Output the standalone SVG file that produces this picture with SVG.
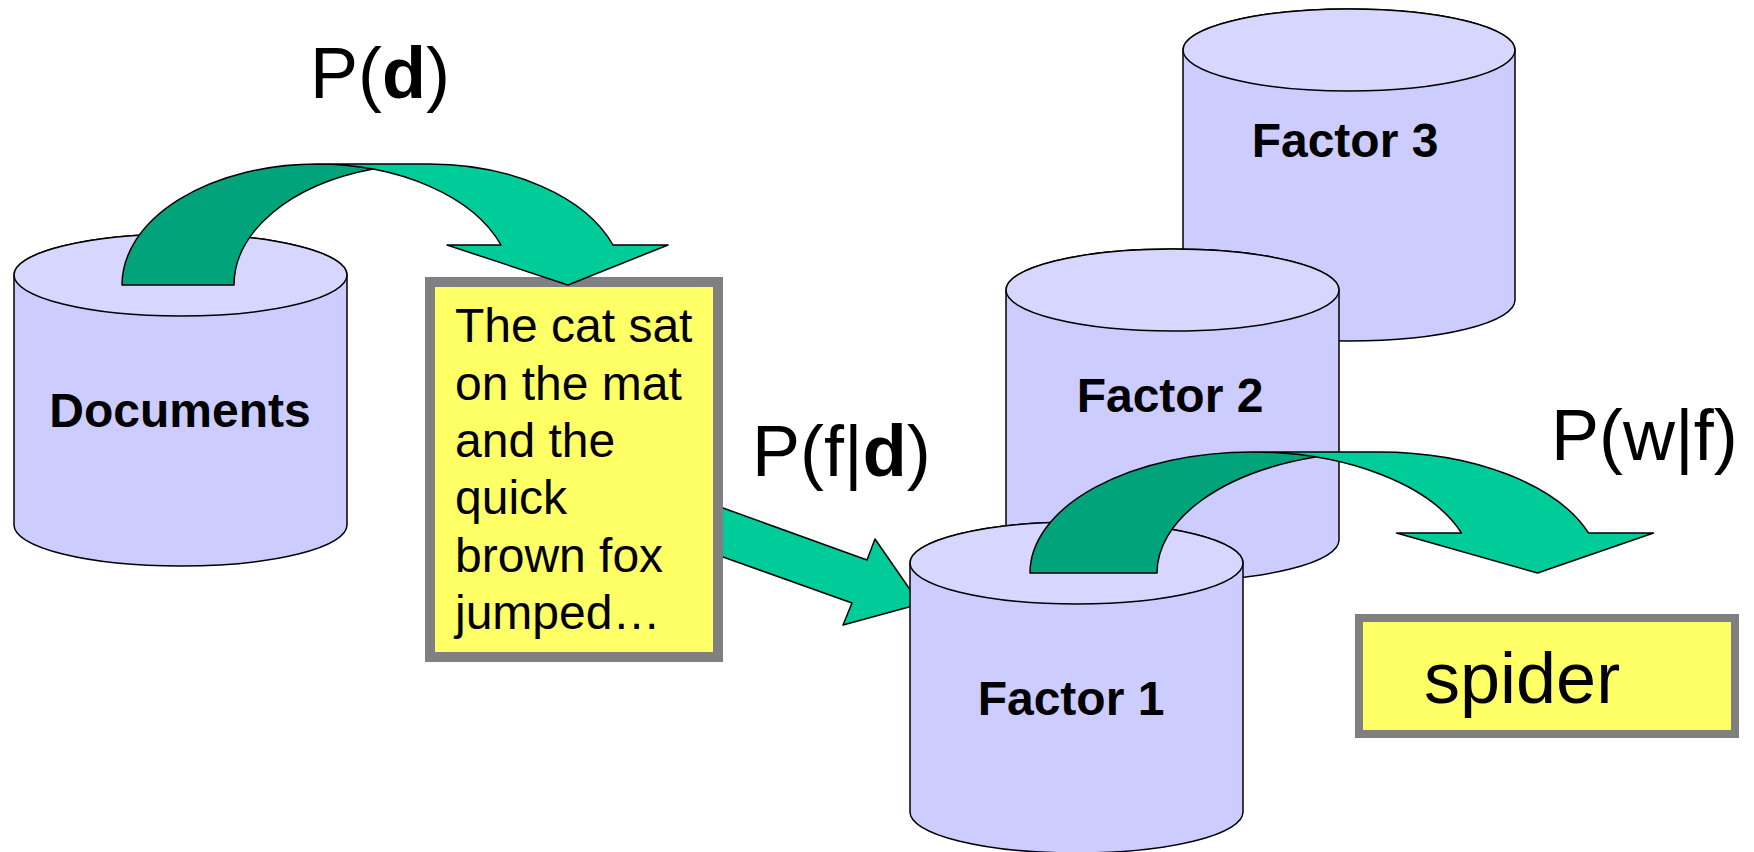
<svg xmlns="http://www.w3.org/2000/svg" width="1754" height="852" viewBox="0 0 1754 852">
<style>
.body{fill:#CCCCFF;stroke:#000;stroke-width:1.5}
.top{fill:#D6D6FF;stroke:#000;stroke-width:1.5}
.lbl{font-family:"Liberation Sans",Arial,sans-serif;font-weight:bold;font-size:48px;fill:#000}
.txt{font-family:"Liberation Sans",Arial,sans-serif;font-size:48px;fill:#000}
.prob{font-family:"Liberation Sans",Arial,sans-serif;font-size:72px;fill:#000}
.light{fill:#00CC99;stroke:none}
.dark{fill:#00A37A;stroke:none}
.outline{fill:none;stroke:#000;stroke-width:1.5;stroke-linejoin:round}
.box{fill:#FFFF66;stroke:#808080}
</style>
<rect width="1754" height="852" fill="#fff"/>

<g id="documents">
<path class="body" d="M14,275 L14,525 A166.5,41 0 0 0 347,525 L347,275 A166.5,41 0 0 0 14,275 Z"/>
<ellipse class="top" cx="180.5" cy="275" rx="166.5" ry="41"/>
<text class="lbl" x="180" y="427" text-anchor="middle">Documents</text>
</g>

<g id="textbox">
<rect class="box" x="430" y="282" width="288" height="375" stroke-width="10"/>
<text class="txt" x="455" y="342">The cat sat</text>
<text class="txt" x="455" y="400">on the mat</text>
<text class="txt" x="455" y="457">and the</text>
<text class="txt" x="455" y="514">quick</text>
<text class="txt" x="455" y="572">brown fox</text>
<text class="txt" x="455" y="629">jumped…</text>
</g>

<g id="factor3">
<path class="body" d="M1183,50 L1183,300 A166,41 0 0 0 1515,300 L1515,50 A166,41 0 0 0 1183,50 Z"/>
<ellipse class="top" cx="1349" cy="50" rx="166" ry="41"/>
<text class="lbl" x="1345" y="157" text-anchor="middle">Factor 3</text>
</g>

<g id="factor2">
<path class="body" d="M1006,290 L1006,540 A166.5,41 0 0 0 1339,540 L1339,290 A166.5,41 0 0 0 1006,290 Z"/>
<ellipse class="top" cx="1172.5" cy="290" rx="166.5" ry="41"/>
<text class="lbl" x="1170" y="412" text-anchor="middle">Factor 2</text>
</g>

<g id="connectors">
<g id="arrow-docs-text">
<path class="light" d="M568,285 L447,245 L501,245 A195,121 0 0 0 317,164 L429,164 A195,121 0 0 1 613,245 L668,245 Z"/>
<path class="dark" d="M373,169.1 A195,121 0 0 0 234,285 L122,285 A195,121 0 0 1 373,169.1 Z"/>
<path class="outline" d="M373,169.1 A195,121 0 0 0 234,285 L122,285 A195,121 0 0 1 317,164 L429,164 A195,121 0 0 1 613,245 L668,245 L568,285 L447,245 L501,245 A195,121 0 0 0 317,164"/>
</g>
<g id="arrow-text-factor1">
<path class="light" d="M723,508 L867,560 L875,539 L920,604 L843,625 L852,603 L723,557 Z"/>
<path class="outline" d="M723,508 L867,560 L875,539 L920,604 L843,625 L852,603 L723,557"/>
</g>
</g>

<g id="factor1">
<path class="body" d="M910,563 L910,812 A166.5,41 0 0 0 1243,812 L1243,563 A166.5,41 0 0 0 910,563 Z"/>
<ellipse class="top" cx="1076.5" cy="563" rx="166.5" ry="41"/>
<text class="lbl" x="1071" y="715" text-anchor="middle">Factor 1</text>
</g>

<g id="connectors2">
<g id="arrow-factor-word">
<path class="light" d="M1537.5,573 L1396.5,533 L1461.5,533 A222,121 0 0 0 1252,452 L1379,452 A222,121 0 0 1 1588.5,533 L1653.5,533 Z"/>
<path class="dark" d="M1315.5,457.1 A222,121 0 0 0 1157,573 L1030,573 A222,121 0 0 1 1315.5,457.1 Z"/>
<path class="outline" d="M1315.5,457.1 A222,121 0 0 0 1157,573 L1030,573 A222,121 0 0 1 1252,452 L1379,452 A222,121 0 0 1 1588.5,533 L1653.5,533 L1537.5,573 L1396.5,533 L1461.5,533 A222,121 0 0 0 1252,452"/>
</g>
</g>

<g id="spider">
<rect class="box" x="1359" y="618" width="376" height="116" stroke-width="8"/>
<text class="txt" x="1424" y="703" style="font-size:72px">spider</text>
</g>

<g id="labels">
<text class="prob" x="310" y="98">P(<tspan font-weight="bold">d</tspan>)</text>
<text class="prob" x="752" y="476">P(f|<tspan font-weight="bold">d</tspan>)</text>
<text class="prob" x="1551" y="460">P(w|f)</text>
</g>
</svg>
